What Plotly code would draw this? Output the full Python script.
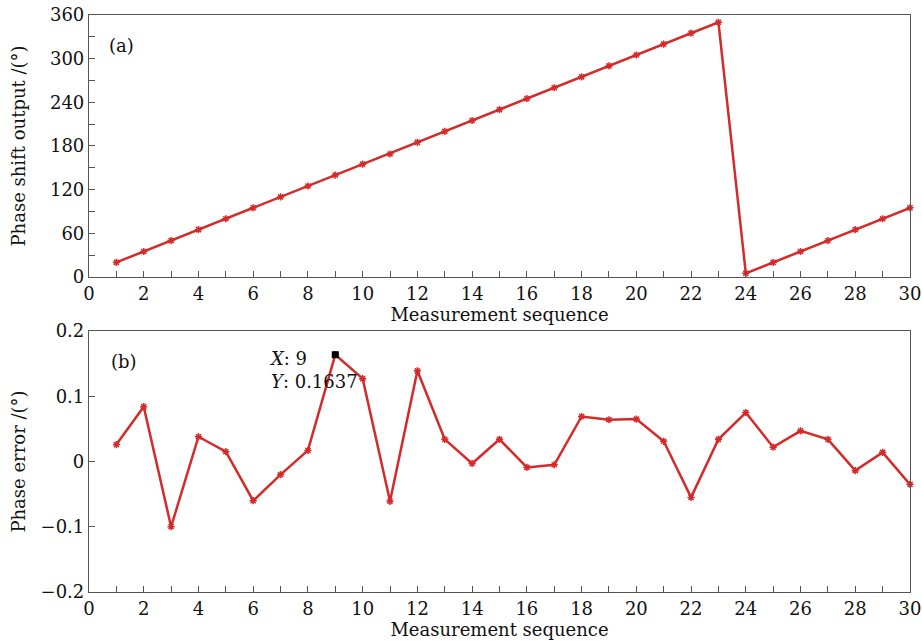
import plotly.graph_objects as go
from plotly.subplots import make_subplots

seq = list(range(1, 31))
phase_out = [20, 35, 50, 65, 80, 95, 110, 125, 140, 155, 169, 185, 200, 215, 230, 245,
             260, 275, 290, 305, 320, 335, 350, 5, 20, 35, 50, 65, 80, 95]
phase_err = [0.026, 0.084, -0.100, 0.038, 0.015, -0.060, -0.020, 0.017, 0.1637, 0.127,
             -0.061, 0.139, 0.034, -0.003, 0.034, -0.009, -0.005, 0.069, 0.064, 0.065,
             0.031, -0.055, 0.034, 0.075, 0.022, 0.047, 0.034, -0.014, 0.014, -0.035]
tip_x, tip_y = 9, 0.1637
err_ticks = [-0.2, -0.1, 0, 0.1, 0.2]
err_labels = ["\u22120.2", "\u22120.1", "0", "0.1", "0.2"]

FONT = "DejaVu Serif"
RED = "#d42a2a"
AX = "#555555"
FS = 18

fig = make_subplots(rows=2, cols=1, vertical_spacing=0.0937)
fig.update_layout(width=922, height=641, margin=dict(l=89, r=12, t=15, b=49),
                  paper_bgcolor="white", plot_bgcolor="white", showlegend=False,
                  font=dict(family=FONT, size=FS, color="#111"))
fig.update_yaxes(domain=[0.546, 1.0], row=1, col=1)
fig.update_yaxes(domain=[0.0, 0.4523], row=2, col=1)

mk = dict(symbol="asterisk-open", size=6, color=RED, line=dict(color=RED, width=1.5))
fig.add_trace(go.Scatter(x=seq, y=phase_out, mode="lines+markers", cliponaxis=False,
                         line=dict(color=RED, width=2.5), marker=mk), row=1, col=1)
fig.add_trace(go.Scatter(x=seq, y=phase_err, mode="lines+markers", cliponaxis=False,
                         line=dict(color=RED, width=2.5), marker=mk), row=2, col=1)
fig.add_trace(go.Scatter(x=[tip_x], y=[tip_y], mode="markers",
                         marker=dict(symbol="square", size=7, color="black")), row=2, col=1)

common = dict(showline=True, linecolor=AX, linewidth=1.2, mirror=True, ticks="inside",
              tickcolor=AX, ticklen=6, showgrid=False, zeroline=False, automargin=False,
              tickfont=dict(family=FONT, size=FS, color="#111"))
fig.update_xaxes(range=[0, 30], dtick=2, tick0=0,
                 minor=dict(dtick=1, ticks="inside", ticklen=6, tickcolor=AX),
                 title=dict(text="Measurement sequence", standoff=2,
                            font=dict(family=FONT, size=FS)), **common)
fig.update_yaxes(range=[0, 360], dtick=60, row=1, col=1,
                 minor=dict(dtick=30, ticks="inside", ticklen=6, tickcolor=AX),
                 title=dict(text="Phase shift output /(°)", standoff=19,
                            font=dict(family=FONT, size=FS)), **common)
fig.update_yaxes(range=[-0.2, 0.2], tickvals=err_ticks, ticktext=err_labels, row=2, col=1,
                 title=dict(text="Phase error /(°)", standoff=10,
                            font=dict(family=FONT, size=FS)), **common)

fig.add_annotation(text="(a)", xref="x domain", yref="y domain", x=0.022, y=0.885,
                   xanchor="left", yanchor="middle", showarrow=False,
                   font=dict(family=FONT, size=FS, color="#111"))
fig.add_annotation(text="(b)", xref="x2 domain", yref="y2 domain", x=0.024, y=0.885,
                   xanchor="left", yanchor="middle", showarrow=False,
                   font=dict(family=FONT, size=FS, color="#111"))
fig.add_annotation(text=f"<i>X</i>: {tip_x}<br><i>Y</i>: {tip_y}", xref="x2", yref="y2",
                   x=tip_x, y=tip_y, xanchor="left", yanchor="top", xshift=-68, yshift=9,
                   align="left", showarrow=False,
                   font=dict(family=FONT, size=FS, color="#111"))

fig.write_html("out.html", config={"displayModeBar": False},
               post_script="document.body.style.margin='0px';")
